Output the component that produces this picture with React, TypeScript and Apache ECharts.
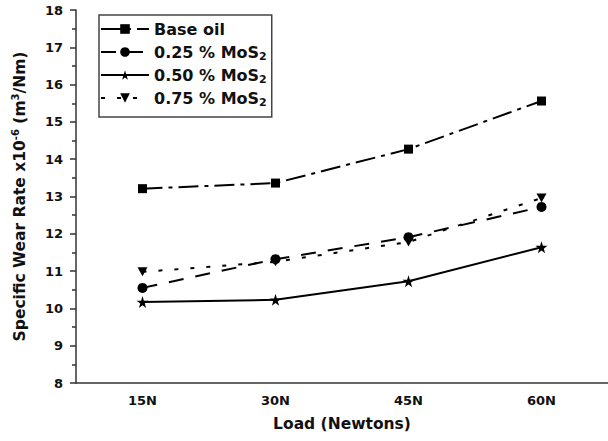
import React, { useEffect, useRef } from "react";
import * as echarts from "echarts";

const categories = ["15N", "30N", "45N", "60N"];
const seriesNames = ["Base oil", "0.25 % MoS2", "0.50 % MoS2", "0.75 % MoS2"];
const baseOil = [13.21, 13.36, 14.27, 15.56];
const mos025 = [10.55, 11.32, 11.91, 12.72];
const mos050 = [10.17, 10.23, 10.73, 11.64];
const mos075 = [10.98, 11.25, 11.78, 12.96];
const yTicks = { min: 8, max: 18, interval: 1 };

const STAR = "path://M50,0 L61,35 L98,35 L68,57 L79,91 L50,70 L21,91 L32,57 L2,35 L39,35 Z";
const TRI_DOWN = "path://M0,0 L10,0 L5,10 Z";

export default function App() {
  const ref = useRef<HTMLDivElement>(null);
  useEffect(() => {
    if (!ref.current) return;
    const chart = echarts.init(ref.current, undefined, { renderer: "svg" });
    const font = "'DejaVu Sans', Verdana, sans-serif";
    const mk = (name: string, data: number[], symbol: string, size: any, dash: any) => ({
      name,
      type: "line",
      data,
      xAxisIndex: 0,
      symbol,
      symbolSize: size,
      itemStyle: { color: "#000" },
      lineStyle: { color: "#000", width: 2, type: dash },
      z: 3,
    });
    chart.setOption({
      animation: false,
      backgroundColor: "#fff",
      grid: { left: 76, top: 10, width: 540, height: 373 },
      legend: {
        left: 99,
        top: 15,
        orient: "vertical",
        data: seriesNames,
        itemWidth: 48,
        itemHeight: 12,
        itemGap: 3,
        padding: [4, 5, 9, 1],
        borderColor: "#444",
        borderWidth: 1.5,
        backgroundColor: "#fff",
        formatter: (n: string) => n.replace("MoS2", "MoS{sub|2}"),
        textStyle: {
          fontFamily: font,
          fontWeight: "bold",
          fontSize: 16,
          lineHeight: 20,
          color: "#111",
          rich: {
            sub: { fontFamily: font, fontWeight: "bold", fontSize: 11, lineHeight: 12, verticalAlign: "bottom", color: "#111" },
          },
        },
      },
      xAxis: [
        {
          type: "category",
          data: categories,
          boundaryGap: true,
          name: "Load (Newtons)",
          nameLocation: "middle",
          nameGap: 33,
          nameTextStyle: { fontFamily: font, fontWeight: "bold", fontSize: 15.5, color: "#111" },
          axisLine: { lineStyle: { color: "#333", width: 1.5 } },
          axisTick: { alignWithLabel: true, length: 5, lineStyle: { color: "#333", width: 1.5 } },
          axisLabel: { fontFamily: font, fontWeight: "bold", fontSize: 13, color: "#111", margin: 11 },
          splitLine: { show: false },
        },
        {
          type: "category",
          data: categories,
          boundaryGap: true,
          position: "bottom",
          axisLine: { show: false },
          axisTick: { alignWithLabel: false, length: 3, lineStyle: { color: "#333", width: 1.5 } },
          axisLabel: { show: false },
          splitLine: { show: false },
        },
      ],
      yAxis: {
        type: "value",
        min: yTicks.min,
        max: yTicks.max,
        interval: yTicks.interval,
        name: "Specific Wear Rate x10{sup|-6} (m{sup|3}/Nm)",
        nameLocation: "middle",
        nameRotate: 90,
        nameGap: 46,
        nameTextStyle: {
          fontFamily: font,
          fontWeight: "bold",
          fontSize: 15.5,
          lineHeight: 20,
          color: "#111",
          rich: {
            sup: { fontFamily: font, fontWeight: "bold", fontSize: 10, lineHeight: 12, verticalAlign: "top", color: "#111" },
          },
        },
        axisLine: { show: true, lineStyle: { color: "#333", width: 1.5 } },
        axisTick: { show: true, length: 6, lineStyle: { color: "#333", width: 1.5 } },
        minorTick: { show: true, splitNumber: 2, length: 4, lineStyle: { color: "#333", width: 1.5 } },
        axisLabel: { fontFamily: font, fontWeight: "bold", fontSize: 13, color: "#111", margin: 13 },
        splitLine: { show: false },
      },
      series: [
        mk(seriesNames[0], baseOil, "rect", 9, [20, 6, 4, 6]),
        mk(seriesNames[1], mos025, "circle", 10, [15, 12]),
        mk(seriesNames[2], mos050, STAR, 12, "solid"),
        mk(seriesNames[3], mos075, TRI_DOWN, [10, 9], [4, 12]),
      ],
    });
    return () => chart.dispose();
  }, []);
  return <div ref={ref} style={{ width: 608, height: 441, position: "absolute", left: 0, top: 0 }} />;
}
